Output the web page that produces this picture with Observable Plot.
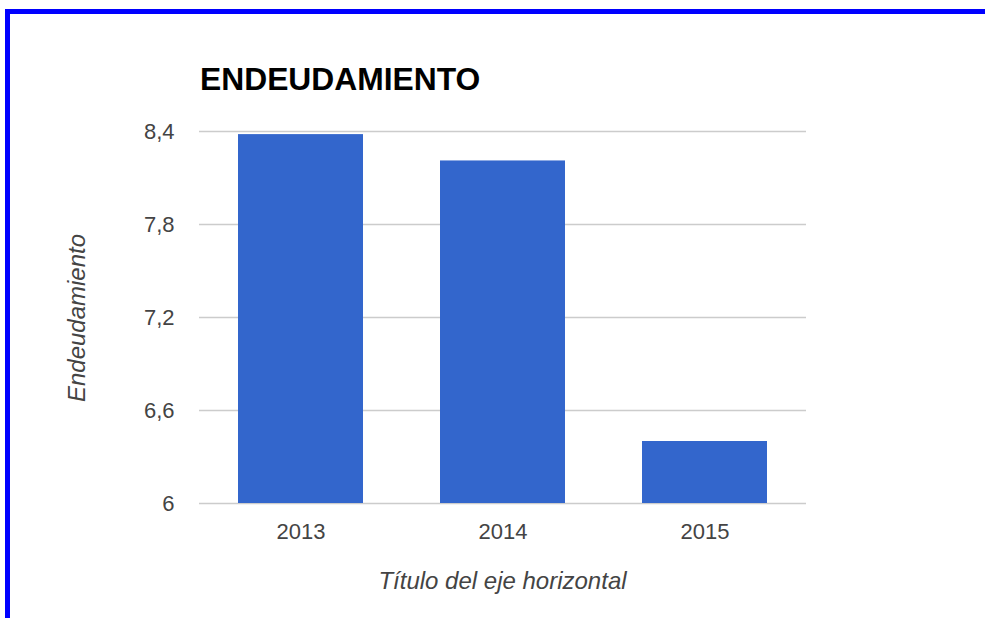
<!DOCTYPE html>
<html>
<head>
<meta charset="utf-8">
<script src="https://cdn.jsdelivr.net/npm/d3@7"></script>
<script src="https://cdn.jsdelivr.net/npm/@observablehq/plot@0.6"></script>
<style>
  html, body { margin: 0; padding: 0; background: #fff; }
  #wrap { position: relative; width: 985px; height: 618px; overflow: hidden; font-family: "Liberation Sans", Arial, sans-serif; }
  #frame { position: absolute; left: 5px; top: 9px; right: -10px; bottom: -10px; border-left: 5px solid #0000ff; border-top: 5px solid #0000ff; }
  #title { position: absolute; left: 200px; top: 64px; font-size: 31.8px; line-height: 1; font-weight: bold; color: #000; white-space: nowrap; }
  #xlabel { position: absolute; left: 199px; width: 607px; top: 569px; text-align: center; font-size: 24px; line-height: 1; font-style: italic; color: #444; white-space: nowrap; }
  #ylabel { position: absolute; left: 77px; top: 318px; transform: translate(-50%, -50%) rotate(-90deg); font-size: 24px; line-height: 1; font-style: italic; color: #444; white-space: nowrap; }
  #chart { position: absolute; left: 0; top: 0; }
</style>
</head>
<body>
<div id="wrap">
  <div id="chart"></div>
  <div id="frame"></div>
  <div id="title">ENDEUDAMIENTO</div>
  <div id="xlabel">Título del eje horizontal</div>
  <div id="ylabel">Endeudamiento</div>
</div>
<script>
const years = ["2013", "2014", "2015"];
const values = [8.38, 8.21, 6.40];
const yTicks = [6, 6.6, 7.2, 7.8, 8.4];
const yBase = 6;

const data = years.map((year, i) => ({year, value: values[i]}));

const chart = Plot.plot({
  width: 985,
  height: 618,
  marginLeft: 199,
  marginRight: 179,
  marginTop: 131,
  marginBottom: 115,
  style: {
    fontFamily: "'Liberation Sans', Arial, sans-serif",
    fontSize: "22px",
    color: "#444",
    background: "transparent",
    overflow: "visible"
  },
  x: {domain: years, paddingInner: 0.38, paddingOuter: 0.19, label: null, tickSize: 0, tickPadding: 20},
  y: {domain: [6, 8.4], ticks: yTicks, tickFormat: d => String(d).replace(".", ","), label: null, tickSize: 0, tickPadding: 25},
  marks: [
    Plot.ruleY(yTicks, {stroke: "#cccccc", strokeWidth: 1.5}),
    Plot.barY(data, {x: "year", y1: yBase, y2: "value", fill: "#3366cc"})
  ]
});
document.getElementById("chart").appendChild(chart);
</script>
</body>
</html>
